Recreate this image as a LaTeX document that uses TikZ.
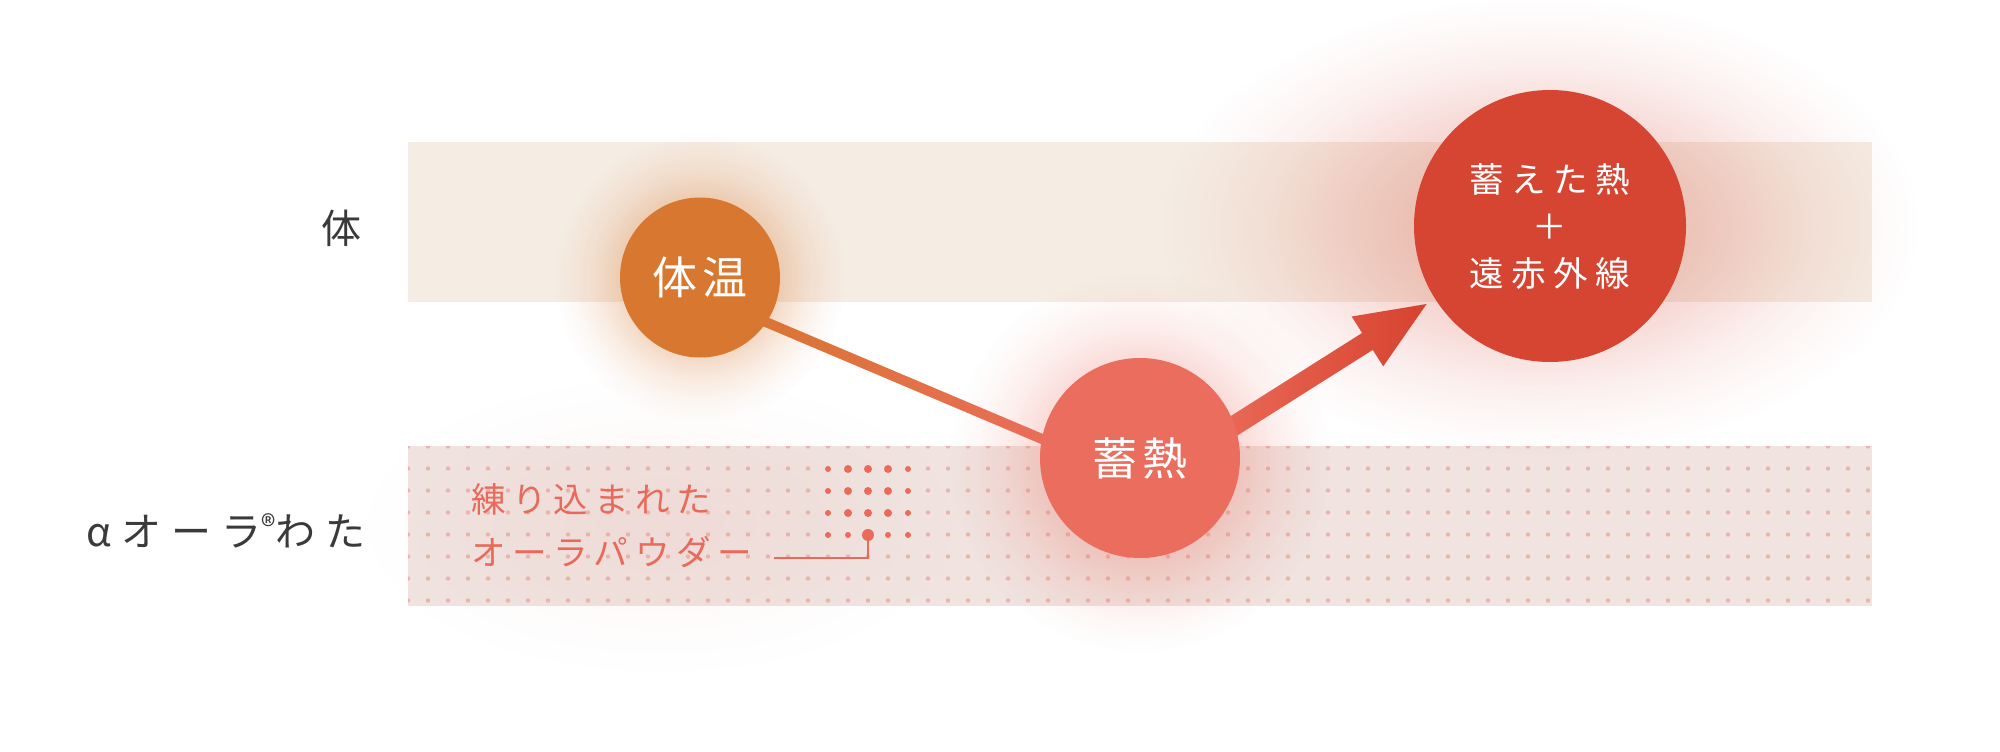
\documentclass[tikz,border=0pt]{standalone}
\usepackage{fontspec}
\newfontfamily\jp{Noto Sans CJK JP}
\usetikzlibrary{calc,fadings}
\definecolor{topband}{HTML}{F5ECE3}
\definecolor{botband}{HTML}{F0E3E0}
\definecolor{griddotc}{HTML}{ECB4AB}
\definecolor{pinkdot}{HTML}{EB6A5A}
\definecolor{taionc}{HTML}{D8772F}
\definecolor{chikuc}{HTML}{EB6D5D}
\definecolor{bigc}{HTML}{D54532}
\definecolor{pinktext}{HTML}{E86A5A}
\definecolor{labelc}{HTML}{3A3A3A}
\definecolor{lineL}{HTML}{D97632}
\definecolor{lineR}{HTML}{EA6C5A}
\definecolor{arrowL}{HTML}{EA6A58}
\definecolor{arrowR}{HTML}{D6432F}
\definecolor{softglow}{HTML}{E8A090}
\pgfdeclareradialshading{glowsh}{\pgfpointorigin}{color(0bp)=(pgftransparent!0); color(6bp)=(pgftransparent!15); color(12bp)=(pgftransparent!45); color(18bp)=(pgftransparent!78); color(22bp)=(pgftransparent!93); color(25bp)=(pgftransparent!100); color(50bp)=(pgftransparent!100)}
\pgfdeclarefading{glowfade}{\pgfuseshading{glowsh}}
\tikzset{
  bubble/.style={circle, inner sep=0pt, outer sep=0pt, text=white},
  sidelbl/.style={inner sep=0pt, text=labelc, font=\jp\fontsize{40}{48}\selectfont},
  pinklbl/.style={inner sep=0pt, anchor=west, text=pinktext, font=\jp\fontsize{34.5}{40}\selectfont\addfontfeature{LetterSpace=19}},
  griddot/.style={fill=griddotc},
  bigdot/.style={fill=pinkdot},
  glow/.style={path fading=glowfade},
  leader/.style={draw=pinktext, line width=2pt}
}
\begin{document}
\begin{tikzpicture}[x=1pt,y=-1pt]
\useasboundingbox (0,0) rectangle (2000,752);
\fill[white] (0,0) rectangle (2000,752);
% bands
\fill[topband] (408,142) rectangle (1872,302);
\fill[botband] (408,446) rectangle (1872,606);
\begin{scope}
\clip (408,446) rectangle (1872,606);
\foreach \i in {0,...,73}{
  \foreach \j in {0,...,7}{
    \fill[griddot] (408+20*\i,446.5+22*\j) circle (2.2pt);
  }
}
\end{scope}
% glows
\fill[softglow, glow, opacity=0.10] (660,525) ellipse [x radius=300pt, y radius=150pt];
\fill[taionc, glow, opacity=0.6] (700,277.5) circle (145pt);
\fill[chikuc, glow, opacity=0.5] (1140,462) circle (190pt);
\fill[bigc, glow, opacity=0.36] (1540,226) ellipse [x radius=380pt, y radius=230pt];
% dot cluster
\foreach \x/\r in {828/3,848/4,868/4,888/4,908/3}{
  \foreach \y in {469,491,513}{
    \fill[bigdot] (\x,\y) circle (\r pt);
  }
}
\foreach \x in {828,848,888,908}{
  \fill[bigdot] (\x,535) circle (3pt);
}
\node[circle, bigdot, minimum size=12pt, inner sep=0pt, outer sep=0pt] (pdot) at (868,535) {};
\coordinate (lead) at (774,558);
\draw[leader] (lead) -| (pdot.center);
% circles (named, for anchors)
\node[bubble, minimum size=160pt] (taion) at (700,277.5) {};
\node[bubble, minimum size=200pt] (chiku) at (1140,458) {};
\node[bubble, minimum size=272pt] (big) at (1550,226) {};
% connector 1
\coordinate (A) at (taion.-34.2);
\coordinate (C) at (chiku.169.3);
\coordinate (A0) at ($(A)!-20pt!(C)$);
\coordinate (C0) at ($(C)!-20pt!(A)$);
\path[left color=lineL, right color=lineR] ($(A0)!5pt!90:(C0)$) -- ($(C0)!5pt!-90:(A0)$) -- ($(C0)!5pt!90:(A0)$) -- ($(A0)!5pt!-90:(C0)$) -- cycle;
% arrow
\coordinate (S) at (chiku.19.5);
\coordinate (T) at ($(big.center)!146pt!(S)$);
\coordinate (S0) at ($(S)!-20pt!(T)$);
\coordinate (B) at ($(T)!70pt!(S)$);
\path[left color=arrowL, right color=arrowR] ($(S0)!10pt!90:(T)$) -- ($(B)!10pt!-90:(S)$) -- ($(B)!29.5pt!-90:(S)$) -- (T) -- ($(B)!29.5pt!90:(S)$) -- ($(B)!10pt!90:(S)$) -- ($(S0)!10pt!-90:(T)$) -- cycle;
% circles drawn on top of connectors
\node[bubble, fill=taionc, minimum size=160pt, font=\jp\fontsize{45}{54}\selectfont\addfontfeature{LetterSpace=12}] (taiontext) at (taion.center) {体温};
\node[bubble, fill=chikuc, minimum size=200pt, font=\jp\fontsize{45}{54}\selectfont\addfontfeature{LetterSpace=12}] (chikutext) at (chiku.center) {蓄熱};
\node[bubble, fill=bigc, minimum size=272pt, align=center, font=\jp\fontsize{34.5}{47}\selectfont\addfontfeature{LetterSpace=22}] (bigtext) at (big.center) {蓄えた熱\\＋\\遠赤外線};
% side labels
\node[sidelbl] (tai) at (341,228) {体};
\node[sidelbl, anchor=east, font=\jp\fontsize{40}{48}\selectfont\addfontfeature{LetterSpace=25}] (wata) at (366,531) {αオーラ{\fontsize{30}{30}\selectfont\raisebox{9pt}{®}}わた};
% pink labels
\node[pinklbl] (t1) at (471,499) {練り込まれた};
\node[pinklbl] (t2) at (471,552) {オーラパウダー};
\end{tikzpicture}
\end{document}
